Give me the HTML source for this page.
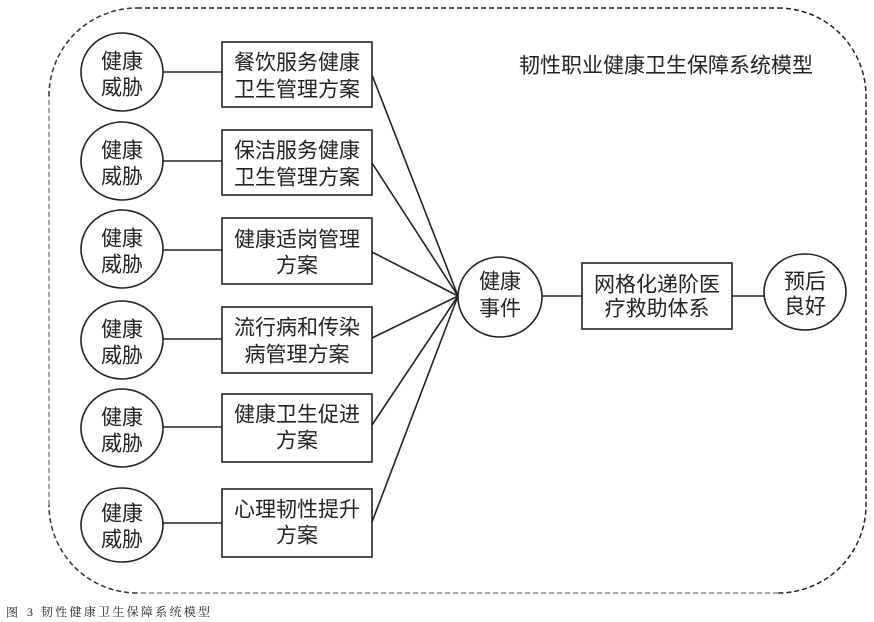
<!DOCTYPE html>
<html>
<head>
<meta charset="utf-8">
<style>
  html, body { margin:0; padding:0; background:#fff; }
  body { width:874px; height:622px; overflow:hidden; }
  svg { display:block; }
  text { font-family: "Liberation Sans", "Noto Sans CJK SC", sans-serif; fill:#222; }
</style>
</head>
<body>
<svg width="874" height="622" viewBox="0 0 874 622" xmlns="http://www.w3.org/2000/svg">
  <!-- dashed boundary -->
  <g fill="none" stroke-width="1.5" stroke-dasharray="5 3">
    <path d="M137,8 H778" stroke="#222"/>
    <path d="M778,8 A88,88 0 0 1 866,96 V505 A88,88 0 0 1 778,593" stroke="#222"/>
    <path d="M778,593 H137" stroke="#888"/>
    <path d="M137,593 A88,88 0 0 1 49,505" stroke="#333"/>
    <path d="M49,505 V96" stroke="#888"/>
    <path d="M49,96 A88,88 0 0 1 137,8" stroke="#333"/>
  </g>

  <!-- title -->
  <text x="666" y="66" font-size="21" text-anchor="middle" dominant-baseline="central">韧性职业健康卫生保障系统模型</text>

  <!-- connectors -->
  <g stroke="#222" stroke-width="1.6" fill="none">
    <line x1="163" y1="72" x2="222" y2="72"/>
    <line x1="163" y1="161" x2="222" y2="161"/>
    <line x1="163" y1="250" x2="222" y2="250"/>
    <line x1="163" y1="339" x2="222" y2="339"/>
    <line x1="163" y1="427" x2="222" y2="427"/>
    <line x1="163" y1="523" x2="222" y2="523"/>

    <line x1="372" y1="75" x2="458" y2="296"/>
    <line x1="372" y1="163" x2="458" y2="296"/>
    <line x1="372" y1="252" x2="458" y2="296"/>
    <line x1="372" y1="338" x2="458" y2="296"/>
    <line x1="372" y1="425" x2="458" y2="296"/>
    <line x1="372" y1="522" x2="458" y2="296"/>

    <line x1="542" y1="296" x2="582" y2="296"/>
    <line x1="732" y1="296" x2="764" y2="296"/>
  </g>

  <!-- shapes -->
  <g stroke="#222" stroke-width="1.6" fill="#fff">
    <ellipse cx="122" cy="72" rx="41" ry="39"/>
    <ellipse cx="122" cy="161" rx="41" ry="39"/>
    <ellipse cx="122" cy="249" rx="41" ry="39"/>
    <ellipse cx="122" cy="340" rx="41" ry="39"/>
    <ellipse cx="122" cy="428" rx="41" ry="39"/>
    <ellipse cx="122" cy="525" rx="41" ry="37"/>

    <rect x="222" y="42" width="150" height="65"/>
    <rect x="222" y="130" width="150" height="65"/>
    <rect x="222" y="218" width="150" height="66"/>
    <rect x="222" y="307" width="150" height="66"/>
    <rect x="222" y="394" width="150" height="68"/>
    <rect x="222" y="489" width="150" height="68"/>

    <ellipse cx="500" cy="297" rx="42" ry="40"/>
    <rect x="582" y="263" width="150" height="66"/>
    <ellipse cx="805" cy="292" rx="41" ry="38"/>
  </g>

  <!-- labels -->
  <g font-size="21" text-anchor="middle" dominant-baseline="central">
    <text x="122" y="62">健康</text><text x="122" y="88">威胁</text>
    <text x="122" y="151">健康</text><text x="122" y="177">威胁</text>
    <text x="122" y="239">健康</text><text x="122" y="265">威胁</text>
    <text x="122" y="330">健康</text><text x="122" y="356">威胁</text>
    <text x="122" y="418">健康</text><text x="122" y="444">威胁</text>
    <text x="122" y="514">健康</text><text x="122" y="540">威胁</text>

    <text x="297" y="63">餐饮服务健康</text><text x="297" y="90">卫生管理方案</text>
    <text x="297" y="151">保洁服务健康</text><text x="297" y="178">卫生管理方案</text>
    <text x="297" y="240">健康适岗管理</text><text x="297" y="266">方案</text>
    <text x="297" y="328">流行病和传染</text><text x="297" y="355">病管理方案</text>
    <text x="297" y="415">健康卫生促进</text><text x="297" y="441">方案</text>
    <text x="297" y="510">心理韧性提升</text><text x="297" y="536">方案</text>

    <text x="500" y="282">健康</text><text x="500" y="309">事件</text>
    <text x="657" y="285">网格化递阶医</text><text x="657" y="309">疗救助体系</text>
    <text x="805" y="282">预后</text><text x="805" y="307">良好</text>
  </g>

  <!-- caption -->
  <g font-size="12" dominant-baseline="central">
    <text x="6" y="612" style="font-family:'Noto Serif CJK SC','Liberation Serif',serif;">图</text>
    <text x="27" y="612" style="font-family:'Liberation Serif',serif;">3</text>
    <text x="41" y="612" textLength="169" lengthAdjust="spacing" style="font-family:'Liberation Serif','Noto Serif CJK SC',serif;">韧性健康卫生保障系统模型</text>
  </g>
</svg>
</body>
</html>
